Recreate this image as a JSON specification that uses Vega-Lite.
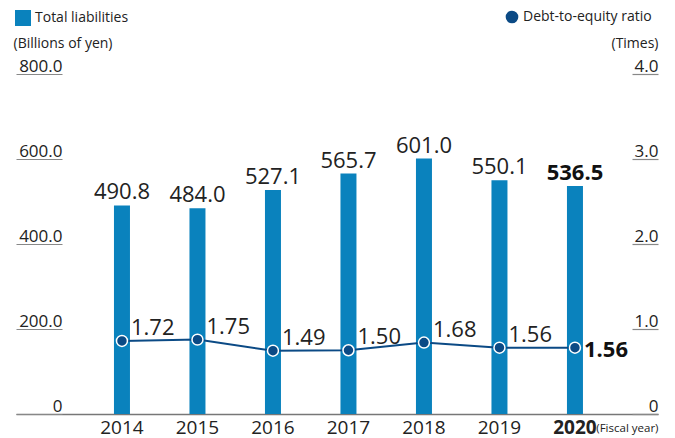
{
  "$schema": "https://vega.github.io/schema/vega-lite/v6.json",
  "width": 642,
  "height": 340,
  "autosize": {"type": "none"},
  "padding": {"left": 16, "top": 74, "right": 17, "bottom": 24},
  "config": {"view": {"stroke": null}, "font": "Open Sans", "axis": {"grid": false}},
  "data": {
    "values": [
      {"year": "2014", "liabilities": 490.8, "ratio": 1.72},
      {"year": "2015", "liabilities": 484.0, "ratio": 1.75},
      {"year": "2016", "liabilities": 527.1, "ratio": 1.49},
      {"year": "2017", "liabilities": 565.7, "ratio": 1.50},
      {"year": "2018", "liabilities": 601.0, "ratio": 1.68},
      {"year": "2019", "liabilities": 550.1, "ratio": 1.56},
      {"year": "2020", "liabilities": 536.5, "ratio": 1.56}
    ]
  },
  "encoding": {
    "x": {
      "field": "year",
      "type": "ordinal",
      "scale": {"paddingInner": 0, "paddingOuter": 0.7517, "align": 0.601},
      "axis": {
        "title": "(Fiscal year)",
        "titleFont": "Liberation Sans Narrow, Open Sans",
        "titleFontSize": 11.5,
        "titleFontWeight": "normal",
        "titleColor": "#222",
        "titleX": 642,
        "titleY": 14,
        "titleAlign": "right",
        "titleBaseline": "middle",
        "labelFontSize": 19,
        "labelFontWeight": {"condition": {"test": "datum.value == '2020'", "value": "bold"}, "value": "normal"},
        "labelColor": "#222",
        "labelAngle": 0,
        "ticks": false,
        "labelPadding": 4,
        "domainColor": "#777",
        "domainWidth": 1.5
      }
    }
  },
  "layer": [
    {
      "layer": [
        {
          "mark": {"type": "bar", "width": 16},
          "encoding": {
            "y": {
              "field": "liabilities",
              "type": "quantitative",
              "scale": {"domain": [0, 800]},
              "axis": {
                "title": "(Billions of yen)",
                "titleAngle": 0,
                "titleX": -3,
                "titleY": -31,
                "titleAlign": "left",
                "titleBaseline": "middle",
                "titleFontSize": 14,
                "titleFontWeight": "normal",
                "titleColor": "#222",
                "values": [0, 200, 400, 600, 800],
                "labelExpr": "datum.value == 0 ? '0' : format(datum.value, '.1f')",
                "tickSize": -46,
                "tickColor": "#888",
                "tickWidth": 1.2,
                "domain": false,
                "labelAlign": "right",
                "labelPadding": 0,
                "labelBaseline": "alphabetic",
                "labelOffset": -3,
                "labelFlush": false,
                "labelOverlap": false,
                "labelFontSize": 17,
                "labelColor": "#222"
              }
            },
            "fill": {
              "datum": "Total liabilities",
              "scale": {"range": ["#0a82bd"]},
              "legend": {
                "orient": "none",
                "legendX": -1,
                "legendY": -64,
                "title": null,
                "symbolType": "square",
                "symbolSize": 256,
                "symbolStrokeWidth": 0,
                "labelFontSize": 14,
                "labelColor": "#222",
                "labelOffset": 4,
                "padding": 0
              }
            }
          }
        },
        {
          "transform": [{"filter": "datum.year != '2020'"}],
          "mark": {"type": "text", "fontSize": 22, "dy": -6, "baseline": "alphabetic", "color": "#222"},
          "encoding": {
            "y": {"field": "liabilities", "type": "quantitative", "scale": {"domain": [0, 800]}},
            "text": {"field": "liabilities", "type": "quantitative", "format": ".1f"}
          }
        },
        {
          "transform": [{"filter": "datum.year == '2020'"}],
          "mark": {"type": "text", "fontSize": 22, "fontWeight": "bold", "dy": -6, "baseline": "alphabetic", "color": "#111"},
          "encoding": {
            "y": {"field": "liabilities", "type": "quantitative", "scale": {"domain": [0, 800]}},
            "text": {"field": "liabilities", "type": "quantitative", "format": ".1f"}
          }
        }
      ]
    },
    {
      "layer": [
        {
          "mark": {"type": "line", "color": "#0b4a85", "strokeWidth": 2},
          "encoding": {
            "y": {
              "field": "ratio",
              "type": "quantitative",
              "scale": {"domain": [0, 8]},
              "axis": {
                "orient": "right",
                "title": "(Times)",
                "titleAngle": 0,
                "titleX": 0,
                "titleY": -31,
                "titleAlign": "right",
                "titleBaseline": "middle",
                "titleFontSize": 14,
                "titleFontWeight": "normal",
                "titleColor": "#222",
                "values": [0, 2, 4, 6, 8],
                "labelExpr": "datum.value == 0 ? '0' : format(datum.value / 2, '.1f')",
                "tickSize": -26,
                "tickColor": "#888",
                "tickWidth": 1.2,
                "domain": false,
                "labelAlign": "right",
                "labelPadding": 26,
                "labelBaseline": "alphabetic",
                "labelOffset": -3,
                "labelFlush": false,
                "labelOverlap": false,
                "labelFontSize": 17,
                "labelColor": "#222"
              }
            }
          }
        },
        {
          "mark": {"type": "point", "filled": true, "size": 120, "fill": "#0b4a85", "stroke": "white", "strokeWidth": 1.5, "opacity": 1},
          "encoding": {
            "y": {"field": "ratio", "type": "quantitative", "scale": {"domain": [0, 8]}},
            "shape": {
              "datum": "Debt-to-equity ratio",
              "scale": {"range": ["circle"]},
              "legend": {
                "orient": "none",
                "legendX": 489,
                "legendY": -64,
                "title": null,
                "symbolSize": 160,
                "symbolFillColor": "#0b4a85",
                "symbolStrokeWidth": 0,
                "labelFontSize": 14,
                "labelColor": "#222",
                "labelOffset": 4,
                "padding": 0
              }
            }
          }
        },
        {
          "transform": [{"filter": "datum.year != '2020'"}],
          "mark": {"type": "text", "fontSize": 22, "dx": 9, "dy": -6, "align": "left", "baseline": "alphabetic", "color": "#222"},
          "encoding": {
            "y": {"field": "ratio", "type": "quantitative", "scale": {"domain": [0, 8]}},
            "text": {"field": "ratio", "type": "quantitative", "format": ".2f"}
          }
        },
        {
          "transform": [{"filter": "datum.year == '2020'"}],
          "mark": {"type": "text", "fontSize": 22, "fontWeight": "bold", "dx": 9, "dy": 2, "align": "left", "baseline": "middle", "color": "#111"},
          "encoding": {
            "y": {"field": "ratio", "type": "quantitative", "scale": {"domain": [0, 8]}},
            "text": {"field": "ratio", "type": "quantitative", "format": ".2f"}
          }
        }
      ]
    }
  ],
  "resolve": {"scale": {"y": "independent"}}
}
